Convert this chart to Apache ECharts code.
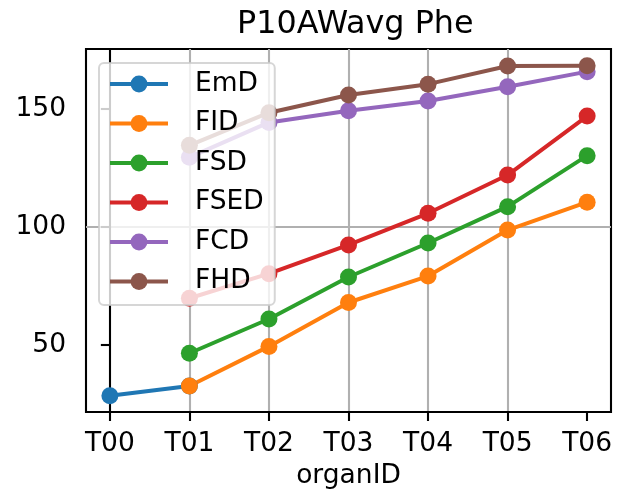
<!DOCTYPE html>
<html>
<head>
<meta charset="utf-8">
<script src="https://cdn.jsdelivr.net/npm/echarts@6/dist/echarts.min.js"></script>
<style>html,body{margin:0;padding:0;background:#fff}#c{width:623px;height:495px}</style>
</head>
<body>
<div id="c"></div>
<script>
const categories = ['T00', 'T01', 'T02', 'T03', 'T04', 'T05', 'T06'];
const EmD  = [28.5, 32.6, null, null, null, null, null];
const FID  = [null, 32.6, 49.4, 68.0, 79.2, 98.7, 110.5];
const FSD  = [null, 46.5, 61.0, 78.8, 93.2, 108.6, 130.2];
const FSED = [null, 69.8, 80.2, 92.4, 105.8, 122.0, 147.0];
const FCD  = [null, 129.5, 144.3, 149.2, 153.4, 159.4, 165.8];
const FHD  = [null, 134.6, 148.4, 155.9, 160.5, 168.2, 168.3];
const yTicks = [50, 100, 150];

const seriesDefs = [
  ['EmD', EmD, '#1f77b4'],
  ['FID', FID, '#ff7f0e'],
  ['FSD', FSD, '#2ca02c'],
  ['FSED', FSED, '#d62728'],
  ['FCD', FCD, '#9467bd'],
  ['FHD', FHD, '#8c564b']
];
const FONT = 'DejaVu Sans';
const xIdx = categories.map((c, i) => i);

const chart = echarts.init(document.getElementById('c'), null, {renderer: 'canvas'});
chart.setOption({
  animation: false,
  backgroundColor: '#fff',
  textStyle: {fontFamily: FONT},
  title: {
    text: 'P10AWavg Phe', left: 232, top: 4,
    textStyle: {fontFamily: FONT, fontSize: 31.8, fontWeight: 'normal', color: '#000'}
  },
  grid: {left: 86, right: 12, top: 49, bottom: 83, show: true, borderColor: '#000', borderWidth: 2.1, containLabel: false},
  xAxis: {
    type: 'value', min: -0.3, max: 6.3, minInterval: 1, maxInterval: 1,
    name: 'organID', nameLocation: 'middle', nameGap: 51,
    nameTextStyle: {fontFamily: FONT, fontSize: 26.5, color: '#000'},
    axisLine: {show: true, lineStyle: {color: '#000', width: 2.1}},
    axisTick: {show: true, inside: false, length: 9, lineStyle: {color: '#000', width: 2.1}, customValues: xIdx},
    axisLabel: {show: true, margin: 19, fontFamily: FONT, fontSize: 26.5, color: '#000', customValues: xIdx,
      formatter: v => (Number.isInteger(v) && categories[v] !== undefined) ? categories[v] : ''},
    splitLine: {show: true, showMinLine: false, showMaxLine: false, lineStyle: {color: '#b0b0b0', width: 2.1}}
  },
  yAxis: {
    type: 'value', min: 21.6, max: 175.4, minInterval: 50, maxInterval: 50,
    axisLine: {show: true, lineStyle: {color: '#000', width: 2.1}},
    axisTick: {show: true, inside: false, length: 9, lineStyle: {color: '#000', width: 2.1}, customValues: yTicks},
    axisLabel: {show: true, margin: 20, fontFamily: FONT, fontSize: 26.5, color: '#000', customValues: yTicks},
    splitLine: {show: true, showMinLine: false, showMaxLine: false, lineStyle: {color: '#b0b0b0', width: 2.1}}
  },
  legend: {
    orient: 'vertical', left: 99, top: 63,
    data: seriesDefs.map(d => d[0]),
    itemWidth: 58, itemHeight: 21, itemGap: 9.5,
    padding: [6, 11, 8.5, 9],
    backgroundColor: 'rgba(255,255,255,0.8)',
    borderColor: 'rgba(204,204,204,0.8)', borderWidth: 2, borderRadius: 5,
    lineStyle: {width: 4},
    textStyle: {fontFamily: FONT, fontSize: 26.5, color: '#000', lineHeight: 30, padding: [0, 0, 0, 22]},
    z: 10
  },
  series: seriesDefs.map(([name, vals, color]) => ({
    name, type: 'line',
    data: vals.map((v, i) => v == null ? null : [i, v]).filter(p => p),
    symbol: 'circle', symbolSize: 17, showSymbol: true,
    lineStyle: {color, width: 4},
    itemStyle: {color},
    emphasis: {disabled: true}
  }))
});
</script>
</body>
</html>
